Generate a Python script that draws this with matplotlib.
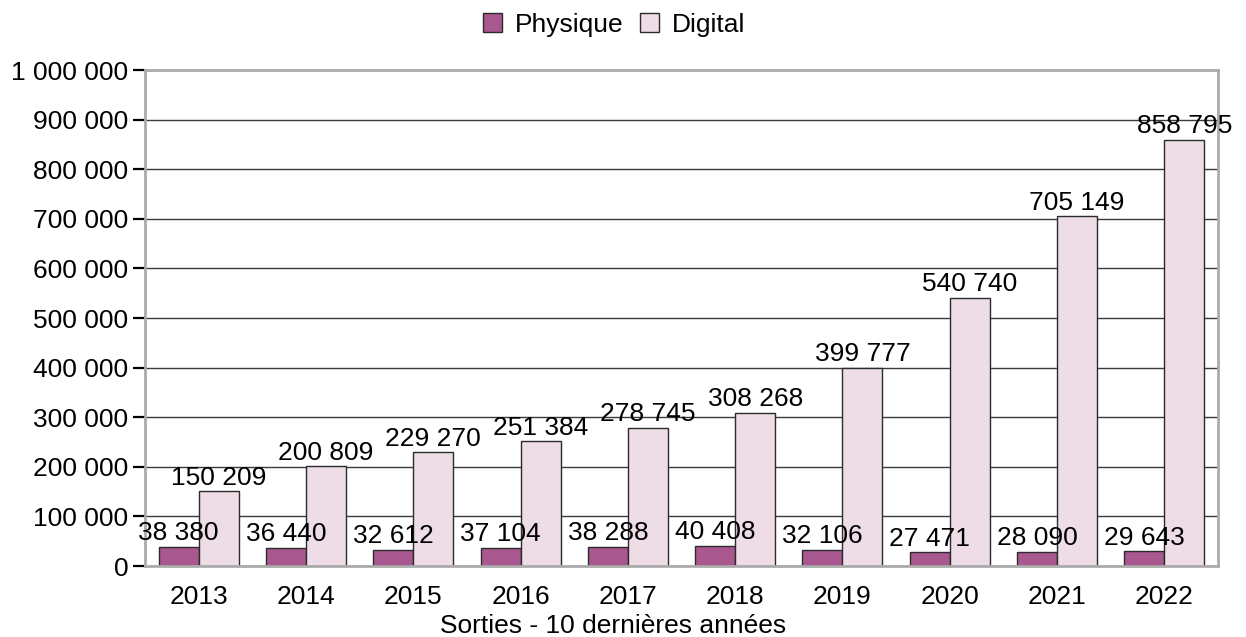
import numpy as np
import matplotlib.pyplot as plt
from matplotlib.ticker import FuncFormatter

plt.rcParams['font.family'] = ['Liberation Sans', 'DejaVu Sans']

years = ['2013', '2014', '2015', '2016', '2017', '2018', '2019', '2020', '2021', '2022']
physique = [38380, 36440, 32612, 37104, 38288, 40408, 32106, 27471, 28090, 29643]
digital = [150209, 200809, 229270, 251384, 278745, 308268, 399777, 540740, 705149, 858795]

c_phys = '#A9578F'
c_dig = '#EEDCE7'
edge = '#2b2b2b'
frame = '#ABABAB'
fs = 19


def fmt(v):
    return '{:,}'.format(int(v)).replace(',', ' ')


fig = plt.figure(figsize=(12.46, 6.37), dpi=100)
ax = fig.add_axes([145 / 1246, 1 - 566 / 637, (1218 - 145) / 1246, (566 - 70) / 637])

x = np.arange(len(years))
w = 0.373
b1 = ax.bar(x - w / 2, physique, w, color=c_phys, edgecolor=edge, linewidth=1, zorder=3, label='Physique')
b2 = ax.bar(x + w / 2, digital, w, color=c_dig, edgecolor=edge, linewidth=1, zorder=3, label='Digital')

# value labels above each bar
for bars, vals in ((b1, physique), (b2, digital)):
    for r, v in zip(bars, vals):
        ax.annotate(fmt(v), (r.get_x() + r.get_width() / 2, v), xytext=(0, 4.8),
                    textcoords='offset points', ha='center', va='baseline',
                    fontsize=fs, zorder=5)

ax.set_xlim(-0.5, len(years) - 0.5)
ax.set_ylim(0, 1000000)
ax.set_yticks(np.arange(0, 1000001, 100000))
ax.yaxis.set_major_formatter(FuncFormatter(lambda v, p: fmt(v)))
ax.set_xticks(x)
ax.set_xticklabels(years)
ax.tick_params(axis='y', length=8.6, width=1.6, color='black', pad=3.5, labelsize=fs)
ax.tick_params(axis='x', length=0, pad=14, labelsize=fs)

ax.grid(axis='y', color='#3a3a3a', linewidth=1, zorder=0)
ax.set_axisbelow(True)
for s in ax.spines.values():
    s.set_color(frame)
    s.set_linewidth(2)
    s.set_zorder(4)

fig.text(613 / 1246, (637 - 633) / 637, 'Sorties - 10 dernières années',
         ha='center', va='baseline', fontsize=fs)

fig.legend(handles=[b1, b2], loc='center', bbox_to_anchor=(614 / 1246, 1 - 25 / 637),
           ncol=2, frameon=False, fontsize=fs, handlelength=0.72, handleheight=0.72,
           handletextpad=0.5, columnspacing=0.6, borderpad=0)

fig.savefig('out.png', dpi=100)
